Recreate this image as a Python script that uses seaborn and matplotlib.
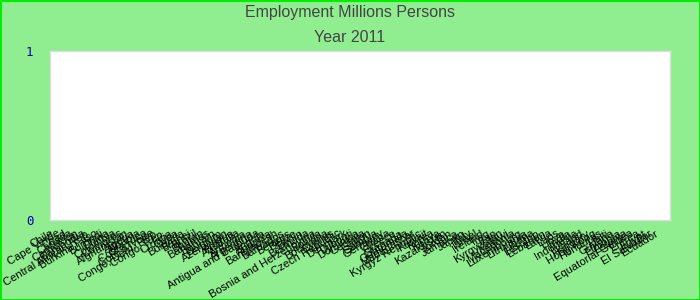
import matplotlib
matplotlib.use("Agg")
import matplotlib.pyplot as plt
import seaborn as sns
import pandas as pd

countries = [
    "Chile", "Cape Verde", "Chad", "Canada", "Cameroon", "Cambodia",
    "Central African Rep.", "Burkina Faso", "Burundi", "China", "Colombia",
    "Comoros", "Afghanistan", "Algeria", "Albania", "Costa Rica",
    "Cote d'Ivoire", "Congo, Dem. Rep.", "Congo, Rep.", "Croatia", "Cuba",
    "Bulgaria", "Brunei", "Brazil", "Bhutan", "Bahamas", "Bahrain", "Belgium",
    "Azerbaijan", "Austria", "Australia", "Armenia", "Argentina",
    "Antigua and Barbuda", "Angola", "Andorra", "Bangladesh", "Barbados",
    "Belarus", "Belize", "Benin", "Bermuda", "Bosnia and Herzegovina",
    "Bolivia", "Botswana", "Cyprus", "Czech Republic", "Denmark", "Djibouti",
    "Dominica", "Georgia", "Gabon", "Gambia", "Germany", "Ghana", "Greece",
    "Grenada", "Guatemala", "Madagascar", "Kyrgyz Republic", "Kuwait", "Korea",
    "Kenya", "Kazakhstan", "Jordan", "Jamaica", "Japan", "Italy", "Israel",
    "Ireland", "Iraq", "Iran", "Kyrgyzstan", "Malawi", "Macedonia",
    "Luxembourg", "Lithuania", "Liberia", "Lesotho", "Lebanon", "Latvia",
    "Laos", "Libya", "India", "Indonesia", "Iceland", "Hungary", "Hong Kong",
    "Honduras", "Haiti", "Guyana", "Ethiopia", "Estonia", "Equatorial Guinea",
    "Eritrea", "Egypt", "El Salvador", "Ecuador",
]
employment = [0] * len(countries)
y_ticks = [0, 1]

df = pd.DataFrame({"country": countries, "employment": employment})

sns.set_theme(style="white")
plt.rcParams["font.family"] = ["Liberation Sans", "DejaVu Sans"]

fig = plt.figure(figsize=(7, 3), dpi=100)
fig.patch.set_facecolor("#90ee90")
fig.patch.set_edgecolor("#00ee00")
fig.patch.set_linewidth(2)

ax = fig.add_axes([50 / 700, 80 / 300, 620 / 700, 169 / 300])
ax.set_facecolor("white")
sns.barplot(data=df, x="country", y="employment", ax=ax, color="#2f7ed8")

ax.set_xlim(-0.5, len(countries) - 0.5 + 1.5)
ax.set_ylim(0, 1)
ax.set_yticks(y_ticks)
ax.set_yticklabels([str(v) for v in y_ticks], color="#0000aa",
                   family="DejaVu Sans Mono", fontsize=9)
ax.tick_params(axis="y", length=0, pad=12)
ax.tick_params(axis="x", length=0, pad=9)
ax.set_xlabel("")
ax.set_ylabel("")
for lbl in ax.get_xticklabels():
    lbl.set_rotation(31)
    lbl.set_ha("right")
    lbl.set_va("center")
    lbl.set_rotation_mode("anchor")
    lbl.set_fontsize(8)
    lbl.set_color("black")
for s in ax.spines.values():
    s.set_color("#dddddd")
    s.set_linewidth(1)

fig.text(0.5, 1 - 13 / 300, "Employment Millions Persons", ha="center",
         va="center", fontsize=11.5, color="#444444")
fig.text(0.5, 1 - 37 / 300, "Year 2011", ha="center", va="center",
         fontsize=11.5, color="#444444")

fig.savefig("out.png", dpi=100, facecolor=fig.get_facecolor(),
            edgecolor=fig.get_edgecolor())
